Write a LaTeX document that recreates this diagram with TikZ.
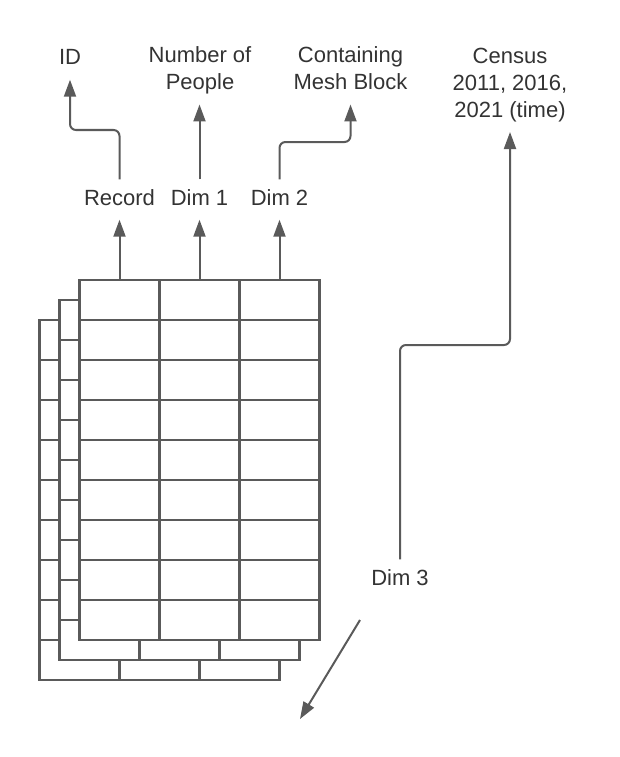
\documentclass[tikz,border=0pt]{standalone}
\usepackage{fontspec}
\setmainfont{Liberation Sans}
\usetikzlibrary{arrows.meta}
\definecolor{linec}{HTML}{5A5A5A}
\definecolor{textc}{HTML}{333333}
\tikzset{
  tbl/.style={draw=linec, line width=2.4pt, fill=white},
  tblline/.style={draw=linec, line width=2.4pt},
  conn/.style={draw=linec, line width=2pt, rounded corners=6pt,
    -{Triangle[length=17pt,width=12pt]}},
  lbl/.style={text=textc, font=\fontsize{22pt}{26.8pt}\selectfont,
    align=center, inner xsep=0pt, inner ysep=9.5pt, text height=16pt, text depth=5pt, anchor=base},
}
\begin{document}
\begin{tikzpicture}[x=1pt,y=-1pt]
\useasboundingbox (0,0) rectangle (620,757);
% stacked tables (back to front)
\foreach \k in {2,1,0}{
  \begin{scope}[shift={(-20*\k,20*\k)}]
    \path[tbl] (79.5,280) rectangle (319.5,640);
    \foreach \c in {159.5,239.5}{\draw[tblline] (\c,280) -- (\c,640);}
    \foreach \r in {320,360,...,600}{\draw[tblline] (79.5,\r) -- (319.5,\r);}
  \end{scope}
}
\coordinate (t1) at (119.5,280);
\coordinate (t2) at (199.5,280);
\coordinate (t3) at (279.5,280);
% labels
\node[lbl] (record) at (119.5,205) {Record};
\node[lbl] (dim1) at (199.5,205) {Dim 1};
\node[lbl] (dim2) at (279.5,205) {Dim 2};
\node[lbl] (id) at (70,65) {ID};
\node[lbl] (people) at (200,89.8) {Number of\\People};
\node[lbl] (mesh) at (350.5,89.8) {Containing\\Mesh Block};
\node[lbl] (census) at (510,117.3) {Census\\2011, 2016,\\2021 (time)};
\node[lbl] (dim3) at (400,585) {Dim 3};
% connectors
\draw[conn] (t1) -- (record.south);
\draw[conn] (t2) -- (dim1.south);
\draw[conn] (t3) -- (dim2.south);
\draw[conn] (record.north) -- (119.5,130) -| (id.south);
\draw[conn] (dim1.north) -- (dim1.north |- people.south);
\draw[conn] (dim2.north) -- (279.5,142) -| (mesh.south);
\draw[conn] (dim3.north) -- (400,345) -| (census.south);
\coordinate (d0) at (360,620);
\coordinate (d1) at (300,719);
\draw[conn] (d0) -- (d1);
\end{tikzpicture}
\end{document}
